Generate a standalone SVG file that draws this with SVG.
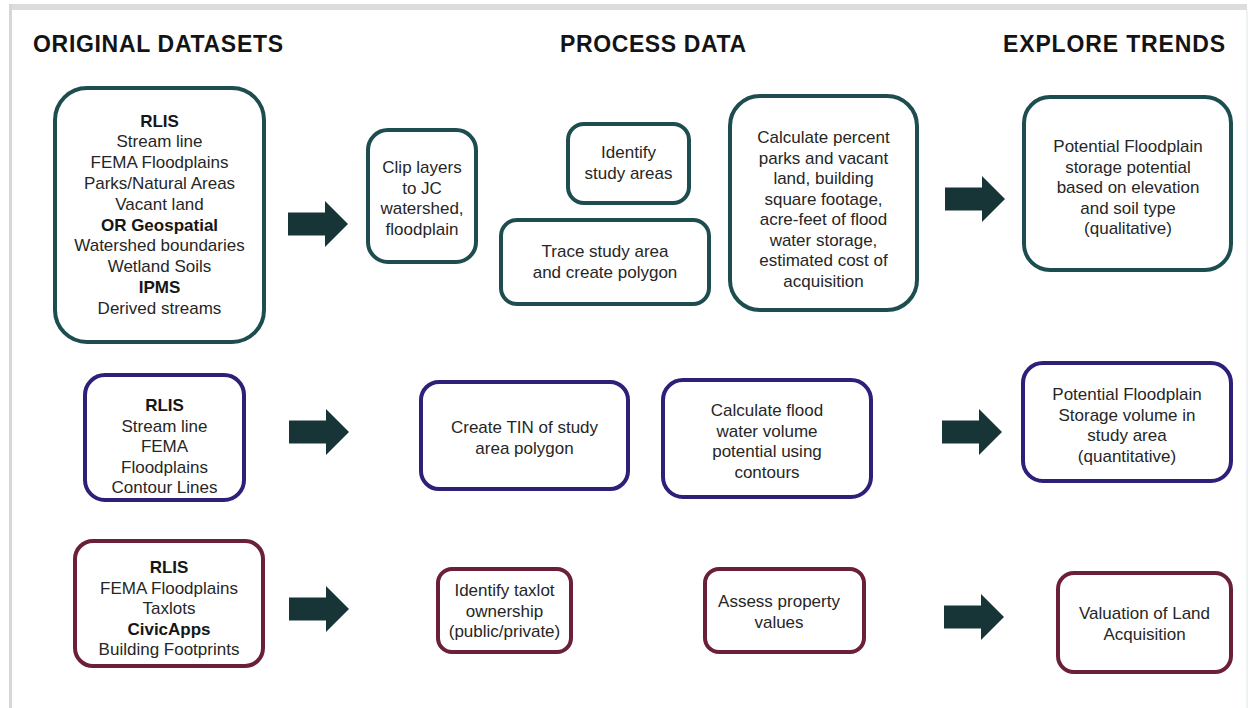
<svg xmlns="http://www.w3.org/2000/svg" width="1250" height="708" viewBox="0 0 1250 708">
<style>
.hdr{font-family:"Liberation Sans",Arial,sans-serif;font-weight:bold;font-size:23px;fill:#141414}
.t{font-family:"Liberation Sans",Arial,sans-serif;font-size:17px;fill:#262626;text-anchor:middle}
.b{font-weight:bold;fill:#161616}
.teal{fill:#fff;stroke:#1e4d50;stroke-width:4}
.purp{fill:#fff;stroke:#2d2078;stroke-width:4}
.maro{fill:#fff;stroke:#6a2038;stroke-width:4}
.arr{fill:#173537}
</style>
<defs>
<path id="arrow" d="M0,-11.5 H37 V-23 L60,0 L37,23 V11.5 H0 Z"/>
</defs>
<rect width="1250" height="708" fill="#fff"/>
<g id="frame">
<rect x="10" y="4" width="1237" height="6" fill="#dcdcdc"/>
<rect x="9" y="4" width="3" height="704" fill="#d6d6d6"/>
<rect x="1246" y="10" width="2" height="698" fill="#eef4f6"/>
</g>
<g id="headers">
<text class="hdr" x="33" y="52" textLength="250">ORIGINAL DATASETS</text>
<text class="hdr" x="560" y="52" textLength="186">PROCESS DATA</text>
<text class="hdr" x="1003" y="52" textLength="222">EXPLORE TRENDS</text>
</g>
<g id="connectors" class="arr">
<use href="#arrow" transform="translate(288,224)"/>
<use href="#arrow" transform="translate(945,199)"/>
<use href="#arrow" transform="translate(289,432)"/>
<use href="#arrow" transform="translate(942,432)"/>
<use href="#arrow" transform="translate(289,609)"/>
<use href="#arrow" transform="translate(944,617)"/>
</g>
<g id="n-orig1">
<rect class="teal" x="55" y="88" width="209" height="254" rx="32"/>
<text class="t b" x="159.5" y="126.5">RLIS</text>
<text class="t" x="159.5" y="147.3">Stream line</text>
<text class="t" x="159.5" y="168.1">FEMA Floodplains</text>
<text class="t" x="159.5" y="188.9">Parks/Natural Areas</text>
<text class="t" x="159.5" y="209.7">Vacant land</text>
<text class="t b" x="159.5" y="230.5">OR Geospatial</text>
<text class="t" x="159.5" y="251.3">Watershed boundaries</text>
<text class="t" x="159.5" y="272.1">Wetland Soils</text>
<text class="t b" x="159.5" y="292.9">IPMS</text>
<text class="t" x="159.5" y="313.7">Derived streams</text>
</g>
<g id="n-clip">
<rect class="teal" x="368" y="130" width="108" height="132" rx="20"/>
<text class="t" x="422" y="173">Clip layers</text>
<text class="t" x="422" y="193.5">to JC</text>
<text class="t" x="422" y="214">watershed,</text>
<text class="t" x="422" y="234.5">floodplain</text>
</g>
<g id="n-identify">
<rect class="teal" x="568" y="124" width="121" height="79" rx="16"/>
<text class="t" x="628.5" y="158">Identify</text>
<text class="t" x="628.5" y="178.5">study areas</text>
</g>
<g id="n-trace">
<rect class="teal" x="501" y="220" width="208" height="84" rx="16"/>
<text class="t" x="605" y="257">Trace study area</text>
<text class="t" x="605" y="277.5">and create polygon</text>
</g>
<g id="n-calc">
<rect class="teal" x="730" y="96" width="187" height="214" rx="30"/>
<text class="t" x="823.5" y="143">Calculate percent</text>
<text class="t" x="823.5" y="163.5">parks and vacant</text>
<text class="t" x="823.5" y="184">land, building</text>
<text class="t" x="823.5" y="204.5">square footage,</text>
<text class="t" x="823.5" y="225">acre-feet of flood</text>
<text class="t" x="823.5" y="245.5">water storage,</text>
<text class="t" x="823.5" y="266">estimated cost of</text>
<text class="t" x="823.5" y="286.5">acquisition</text>
</g>
<g id="n-explore1">
<rect class="teal" x="1024" y="97" width="207" height="173" rx="26"/>
<text class="t" x="1128" y="152">Potential Floodplain</text>
<text class="t" x="1128" y="172.5">storage potential</text>
<text class="t" x="1128" y="193">based on elevation</text>
<text class="t" x="1128" y="213.5">and soil type</text>
<text class="t" x="1128" y="234">(qualitative)</text>
</g>
<g id="n-orig2">
<rect class="purp" x="85" y="375" width="159" height="125" rx="20"/>
<text class="t b" x="164.5" y="411">RLIS</text>
<text class="t" x="164.5" y="431.5">Stream line</text>
<text class="t" x="164.5" y="452">FEMA</text>
<text class="t" x="164.5" y="472.5">Floodplains</text>
<text class="t" x="164.5" y="493">Contour Lines</text>
</g>
<g id="n-tin">
<rect class="purp" x="421" y="382" width="207" height="107" rx="18"/>
<text class="t" x="524.5" y="433">Create TIN of study</text>
<text class="t" x="524.5" y="453.5">area polygon</text>
</g>
<g id="n-volume">
<rect class="purp" x="663" y="380" width="208" height="117" rx="20"/>
<text class="t" x="767" y="416">Calculate flood</text>
<text class="t" x="767" y="436.5">water volume</text>
<text class="t" x="767" y="457">potential using</text>
<text class="t" x="767" y="477.5">contours</text>
</g>
<g id="n-explore2">
<rect class="purp" x="1023" y="363" width="208" height="118" rx="20"/>
<text class="t" x="1127" y="400">Potential Floodplain</text>
<text class="t" x="1127" y="420.5">Storage volume in</text>
<text class="t" x="1127" y="441">study area</text>
<text class="t" x="1127" y="461.5">(quantitative)</text>
</g>
<g id="n-orig3">
<rect class="maro" x="75" y="541" width="188" height="125" rx="18"/>
<text class="t b" x="169" y="573">RLIS</text>
<text class="t" x="169" y="593.5">FEMA Floodplains</text>
<text class="t" x="169" y="614">Taxlots</text>
<text class="t b" x="169" y="634.5">CivicApps</text>
<text class="t" x="169" y="655">Building Footprints</text>
</g>
<g id="n-taxlot">
<rect class="maro" x="438" y="569" width="133" height="83" rx="14"/>
<text class="t" x="504.5" y="596">Identify taxlot</text>
<text class="t" x="504.5" y="616.5">ownership</text>
<text class="t" x="504.5" y="637">(public/private)</text>
</g>
<g id="n-assess">
<rect class="maro" x="705" y="569" width="159" height="83" rx="14"/>
<text class="t" x="779" y="607">Assess property</text>
<text class="t" x="779" y="627.5">values</text>
</g>
<g id="n-valuation">
<rect class="maro" x="1058" y="573" width="173" height="99" rx="16"/>
<text class="t" x="1144.5" y="619">Valuation of Land</text>
<text class="t" x="1144.5" y="639.5">Acquisition</text>
</g>
</svg>
